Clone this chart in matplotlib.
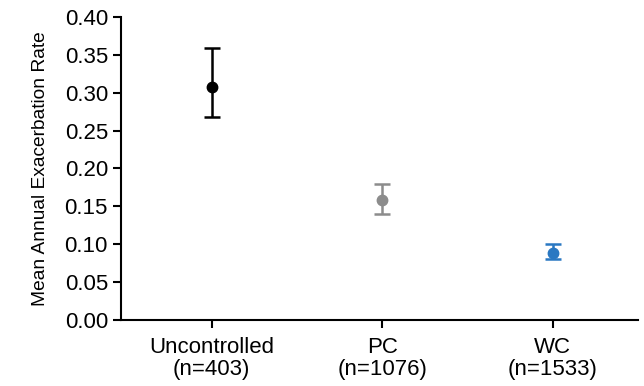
import matplotlib.pyplot as plt

plt.rcParams['font.family'] = ['Liberation Sans', 'DejaVu Sans']

# --- data ---
groups = ["Uncontrolled\n(n=403)", "PC\n(n=1076)", "WC\n(n=1533)"]
mean_rate = [0.308, 0.159, 0.089]
ci_low = [0.268, 0.140, 0.080]
ci_high = [0.359, 0.180, 0.100]
colors = ["#000000", "#8c8c8c", "#2a78c2"]

fig = plt.figure(figsize=(6.44, 3.86), dpi=100)
ax = fig.add_axes([0.188, 0.171, 0.803, 0.785])

for i, (m, lo, hi, c) in enumerate(zip(mean_rate, ci_low, ci_high, colors)):
    ax.errorbar(i, m, yerr=[[m - lo], [hi - m]], fmt='o', color=c,
                markersize=7.5, elinewidth=1.8, capsize=5.5, capthick=1.8)

ax.set_xlim(-0.53, 2.5)
ax.set_ylim(0, 0.40)
ax.set_yticks([i * 0.05 for i in range(9)])
ax.set_yticklabels([f"{i * 0.05:.2f}" for i in range(9)])
ax.set_xticks(range(len(groups)))
ax.set_xticklabels(groups, linespacing=1.1)
ax.set_ylabel("Mean Annual Exacerbation Rate", fontsize=13.8)
ax.yaxis.set_label_coords(-0.14, 0.5)

ax.spines['top'].set_visible(False)
ax.spines['right'].set_visible(False)
for s in ['left', 'bottom']:
    ax.spines[s].set_linewidth(1.5)
ax.tick_params(axis='both', labelsize=16, width=1.5, length=6, direction='out')
ax.tick_params(axis='x', pad=6)

fig.savefig("out.png", dpi=100)
